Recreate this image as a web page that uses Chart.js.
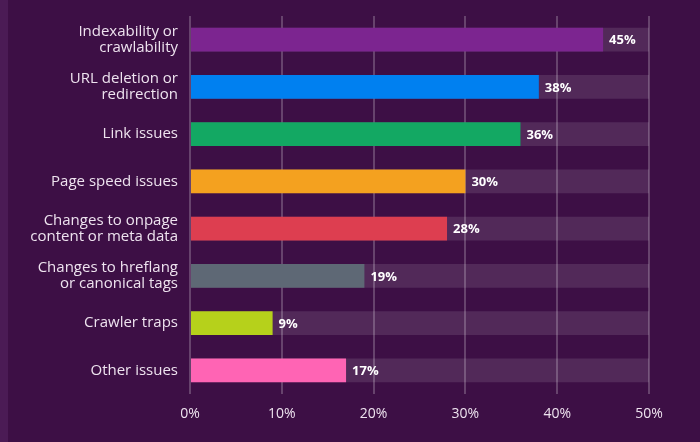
<!DOCTYPE html>
<html>
<head>
<meta charset="utf-8">
<script src="https://cdn.jsdelivr.net/npm/chart.js@4"></script>
<style>
  html, body { margin: 0; padding: 0; }
  body { background: #3d0f45; width: 700px; height: 442px; overflow: hidden; }
  #wrap { position: relative; width: 692px; height: 442px; border-left: 8px solid #4b1b55; }
</style>
</head>
<body>
<div id="wrap"><canvas id="chart" width="692" height="442"></canvas></div>
<script>
const categories = [
  ['Indexability or', 'crawlability'],
  ['URL deletion or', 'redirection'],
  'Link issues',
  'Page speed issues',
  ['Changes to onpage', 'content or meta data'],
  ['Changes to hreflang', 'or canonical tags'],
  'Crawler traps',
  'Other issues'
];
const shares = [45, 38, 36, 30, 28, 19, 9, 17];
const trackMax = [50, 50, 50, 50, 50, 50, 50, 50];
const barColors = ['#7c2590', '#0080f0', '#13a863', '#f4a11f', '#dd3e50', '#5e6875', '#b6d11b', '#ff64b4'];
const tickLabels = ['0%', '10%', '20%', '30%', '40%', '50%'];

const textColor = '#eee3ef';
const fontFamily = "'Open Sans', 'DejaVu Sans', sans-serif";

// draws the "45%" labels just right of each bar
const valueLabels = {
  id: 'valueLabels',
  afterDatasetsDraw(chart) {
    const ctx = chart.ctx;
    const meta = chart.getDatasetMeta(1);
    ctx.save();
    ctx.font = 'bold 13px ' + fontFamily;
    ctx.fillStyle = '#ffffff';
    ctx.textAlign = 'left';
    ctx.textBaseline = 'middle';
    meta.data.forEach((bar, i) => {
      ctx.fillText(shares[i] + '%', bar.x + 6, bar.y + 1);
    });
    ctx.restore();
  }
};

new Chart(document.getElementById('chart'), {
  type: 'bar',
  data: {
    labels: categories,
    datasets: [
      {
        label: 'track',
        data: trackMax,
        backgroundColor: 'rgba(255,255,255,0.11)',
        barPercentage: 0.5,
        categoryPercentage: 1,
        grouped: false,
        order: 1
      },
      {
        label: 'share',
        data: shares,
        backgroundColor: barColors,
        barPercentage: 0.5,
        categoryPercentage: 1,
        grouped: false,
        order: 0
      }
    ]
  },
  options: {
    indexAxis: 'y',
    responsive: false,
    animation: false,
    layout: { padding: { top: 16, right: 51, bottom: 0, left: 0 } },
    plugins: { legend: { display: false }, tooltip: { enabled: false } },
    scales: {
      x: {
        min: 0,
        max: 50,
        afterFit(scale) { scale.height = 48; },
        border: { display: false },
        grid: { color: 'rgba(255,255,255,0.22)', lineWidth: 2, drawTicks: false },
        ticks: {
          stepSize: 10,
          padding: 12,
          color: textColor,
          font: { family: fontFamily, size: 14 },
          callback: (v, i) => tickLabels[i]
        }
      },
      y: {
        afterFit(scale) {
          scale.width = 182;
          scale.paddingTop = 0;
          scale.paddingBottom = 0;
        },
        border: { display: false },
        grid: { display: false, drawTicks: false },
        ticks: {
          padding: 12,
          color: textColor,
          font: { family: fontFamily, size: 15, lineHeight: 1.07 }
        }
      }
    }
  },
  plugins: [valueLabels]
});
</script>
</body>
</html>
